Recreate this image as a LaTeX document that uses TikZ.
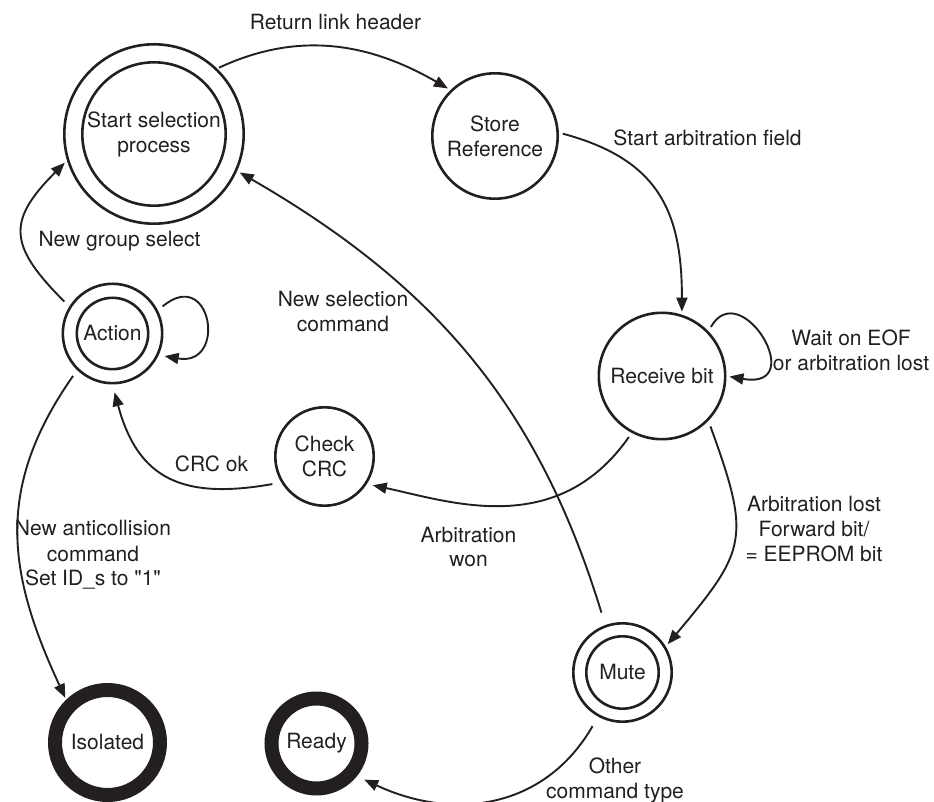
\documentclass[tikz,border=0pt]{standalone}
\usepackage{fontspec}
\setmainfont{TeX Gyre Heros}[Ligatures=TeXOff]
\usetikzlibrary{arrows.meta}
\definecolor{ink}{HTML}{231F20}
\begin{document}
\begin{tikzpicture}[x=1pt,y=1pt,
  txt/.style={font=\fontsize{21}{25}\selectfont, text=ink},
  state/.style={txt, circle, draw=ink, line width=2.6pt, inner sep=0pt, align=center},
  final/.style={txt, circle, draw=ink, line width=14pt, inner sep=0pt},
  innerring/.style={draw=ink, line width=2.6pt},
  trans/.style={draw=ink, line width=1.9pt, -{Triangle[length=14pt,width=11pt]},
                shorten <=5pt, shorten >=3pt},
  % multi-line labels: the base anchor sits on the last line
  lbl/.style={txt, align=center, anchor=base, inner sep=0pt}
]
\useasboundingbox (0,0) rectangle (934,801);

% states
\node[state, minimum size=179.4pt] (start) at (154,667) {Start selection\\process};
\draw[innerring] (start.center) circle (71.7);
\node[state, minimum size=125.4pt] (store) at (495,665) {Store\\Reference};
\node[state, minimum size=126.4pt] (rb) at (662,425) {Receive bit};
\node[state, minimum size=99.4pt] (action) at (112.5,467.5) {Action};
\draw[innerring] (action.center) circle (35.7);
\node[state, minimum size=98.4pt] (crc) at (324.5,344.5) {Check\\CRC};
\node[state, minimum size=98.4pt] (mute) at (622.5,128.5) {Mute};
\draw[innerring] (mute.center) circle (36.2);
\node[final, minimum size=105pt] (iso) at (107.5,58.5) {Isolated};
\node[final, minimum size=90pt] (ready) at (316.5,57.5) {Ready};

% transitions
\draw[trans, shorten <=2pt] (start.46) to[out=25,in=150] (store.134);
\draw[trans, shorten <=4pt] (store.3) to[out=-15,in=90,looseness=1.2] (rb.72);
\draw[trans] (rb.44) to[out=60,in=-10,out distance=65pt,in distance=85pt] (rb.0);
\draw[trans, shorten <=6pt, shorten >=6pt] (action.27) to[out=40,in=-10,out distance=70pt,in distance=70pt] (action.-25);
\draw[trans, shorten <=7pt] (action.148) to[out=135,in=225,looseness=1.5] (start.197);
\draw[trans, shorten <=7pt, shorten >=2pt] (action.-134) to[out=-125,in=115,looseness=1.1] (iso.134);
\draw[trans, shorten <=9pt, shorten >=8pt] (crc.211) to[out=190,in=-75,looseness=1.3] (action.-90);
\draw[trans, shorten >=6pt] (rb.-118) to[out=-125,in=-12,out distance=130pt,in distance=85pt] (crc.-33.5);
\draw[trans, shorten <=6pt] (rb.-44) to[out=-70,in=50,looseness=1.4] (mute.31);
\draw[trans, shorten <=13pt] (mute.110) to[out=107,in=-30] (start.-24);
\draw[trans, shorten <=11pt, shorten >=8pt] (mute.-119) to[out=-120,in=-25,looseness=1.1] (ready.-39);

% transition labels
\node[lbl] (l1) at (335.5,771) {Return link header};
\node[lbl] (l2) at (707.5,655) {Start arbitration field};
\node[lbl] (l3) at (119.5,554) {New group select};
\node[lbl] (l4) at (343,469) {New selection\\command};
\node[lbl] (l5) at (851,430) {Wait on EOF\\or arbitration lost};
\node[lbl] (l6) at (211.5,329) {CRC ok};
\node[lbl] (l7) at (468.5,234) {Arbitration\\won};
\node[lbl] (l8) at (814,240) {Arbitration lost\\Forward bit/\\= EEPROM bit};
\node[lbl] (l9) at (93,215) {New anticollision\\command\\Set ID\_s to "1"};
\node[lbl] (l10) at (615,3) {Other\\command type};
\end{tikzpicture}
\end{document}
